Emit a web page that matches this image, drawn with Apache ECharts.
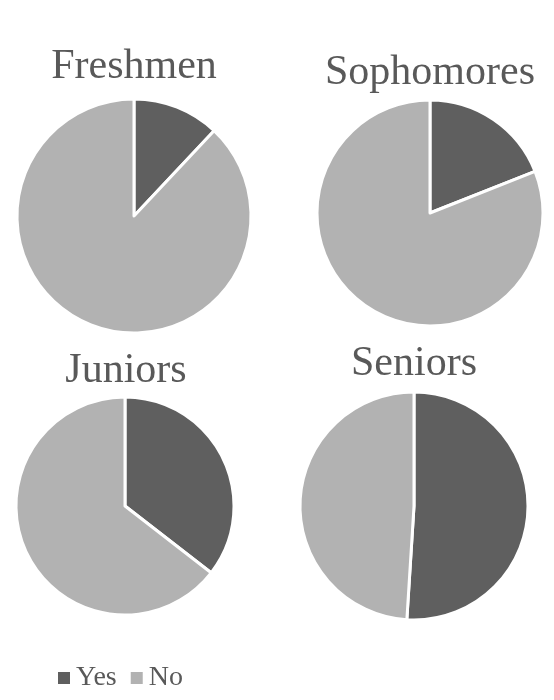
<!DOCTYPE html>
<html><head><meta charset="utf-8">
<script src="https://cdn.jsdelivr.net/npm/echarts@6/dist/echarts.min.js"></script>
<style>html,body{margin:0;padding:0;background:#fff}#c{width:554px;height:700px}</style>
</head><body><div id="c"></div>
<script>
const groups = ['Freshmen', 'Sophomores', 'Juniors', 'Seniors'];
const answers = ['Yes', 'No'];
const yesValues = [12, 19, 35.5, 51];
const noValues = [88, 81, 64.5, 49];

const centers = [[134, 216], [430, 213], [125, 506], [414, 506]];
const radii = [117, 113, 109, 114];
const titlePos = [[134, 46], [430, 52], [126, 350], [414, 343]];
const font = '"Liberation Serif", "DejaVu Serif", serif';

const chart = echarts.init(document.getElementById('c'));
chart.setOption({
  animation: false,
  color: ['#5f5f5f', '#b2b2b2'],
  title: groups.map((g, i) => ({
    text: g,
    left: titlePos[i][0],
    top: titlePos[i][1],
    textAlign: 'center',
    padding: 0,
    textStyle: { fontFamily: font, fontSize: 42, fontWeight: 'normal', color: '#595959' }
  })),
  legend: {
    data: answers,
    left: 56, top: 664, padding: 0,
    icon: 'rect', itemWidth: 14, itemHeight: 14, itemGap: 12,
    textStyle: { fontFamily: font, fontSize: 28, color: '#595959' }
  },
  series: groups.map((g, i) => ({
    type: 'pie',
    name: g,
    center: centers[i],
    radius: radii[i],
    startAngle: 90,
    clockwise: true,
    label: { show: false },
    labelLine: { show: false },
    emphasis: { disabled: true },
    itemStyle: { borderColor: '#fff', borderWidth: 3 },
    data: [
      { name: answers[0], value: yesValues[i] },
      { name: answers[1], value: noValues[i] }
    ]
  }))
});
</script></body></html>
